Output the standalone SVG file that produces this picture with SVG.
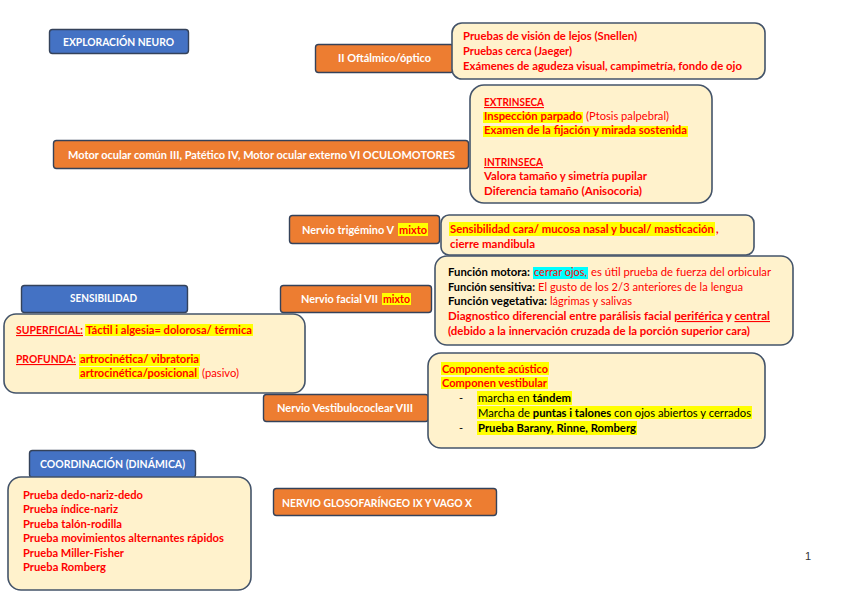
<svg xmlns="http://www.w3.org/2000/svg" width="848" height="599" viewBox="0 0 848 599">
<style>
text{font-family:Lato,"Liberation Sans",sans-serif;font-size:11px}
.or{fill:#ED7D31;stroke:#34425A;stroke-width:1.4}
.bl{fill:#4472C4;stroke:#34425A;stroke-width:1.4}
.cr{fill:#FFF2CC;stroke:#44546A;stroke-width:1.6}
.w{fill:#FFFFFF;font-weight:bold}
.r{fill:#FF0000;font-weight:bold}
.rn{fill:#FF0000;font-weight:normal}
.k{fill:#000000;font-weight:bold}
.kn{fill:#000000;font-weight:normal}
.u{text-decoration:underline}
.y{fill:#FFFF00}
.c{fill:#00FFFF}
</style>
<rect width="848" height="599" fill="#FFFFFF"/>
<g id="connectors"/>

<g id="exploracion">
<rect class="bl" x="49.5" y="29.5" width="139" height="24" rx="3"/>
<text class="w" x="63" y="46" textLength="111" lengthAdjust="spacingAndGlyphs">EXPLORACIÓN NEURO</text>
</g>

<g id="optico">
<rect class="or" x="315.5" y="44.5" width="138" height="28" rx="3"/>
<text class="w" x="338" y="62" textLength="93" lengthAdjust="spacingAndGlyphs">II Oftálmico/óptico</text>
</g>

<g id="optico-info">
<rect class="cr" x="452" y="23" width="313" height="56" rx="10"/>
<text class="r" x="463" y="40" textLength="174" lengthAdjust="spacingAndGlyphs">Pruebas de visión de lejos (Snellen)</text>
<text class="r" x="463" y="55" textLength="109" lengthAdjust="spacingAndGlyphs">Pruebas cerca (Jaeger)</text>
<text class="r" x="463" y="70" textLength="279" lengthAdjust="spacingAndGlyphs">Exámenes de agudeza visual, campimetría, fondo de ojo</text>
</g>

<g id="oculomotores">
<rect class="or" x="53.5" y="140.5" width="415" height="28" rx="3"/>
<text class="w" x="68" y="159" textLength="387" lengthAdjust="spacingAndGlyphs">Motor ocular común III, Patético IV, Motor ocular externo VI OCULOMOTORES</text>
</g>

<g id="oculomotores-info">
<rect class="cr" x="470" y="85" width="242" height="118" rx="14"/>
<text class="r u" x="484" y="106" textLength="60" lengthAdjust="spacingAndGlyphs">EXTRINSECA</text>
<rect class="y" x="483" y="112" width="100" height="11"/>
<text class="r" x="484" y="120" textLength="98" lengthAdjust="spacingAndGlyphs">Inspección parpado</text>
<text class="rn" x="586" y="120" textLength="83" lengthAdjust="spacingAndGlyphs">(Ptosis palpebral)</text>
<rect class="y" x="483" y="126" width="205" height="11"/>
<text class="r" x="484" y="134" textLength="203" lengthAdjust="spacingAndGlyphs">Examen de la fijación y mirada sostenida</text>
<text class="r u" x="484" y="166" textLength="59" lengthAdjust="spacingAndGlyphs">INTRINSECA</text>
<text class="r" x="484" y="180" textLength="163" lengthAdjust="spacingAndGlyphs">Valora tamaño y simetría pupilar</text>
<text class="r" x="484" y="195" textLength="158" lengthAdjust="spacingAndGlyphs">Diferencia tamaño (Anisocoria)</text>
</g>

<g id="trigemino">
<rect class="or" x="289.5" y="215.5" width="150" height="28" rx="3"/>
<text class="w" x="302" y="234" textLength="92" lengthAdjust="spacingAndGlyphs">Nervio trigémino V</text>
<rect class="y" x="398" y="223" width="30" height="13"/>
<text class="r" x="399" y="234" textLength="28" lengthAdjust="spacingAndGlyphs">mixto</text>
</g>

<g id="trigemino-info">
<rect class="cr" x="441" y="215" width="313" height="40" rx="8"/>
<rect class="y" x="449" y="222" width="266" height="14"/>
<text class="r" x="450" y="233" textLength="264" lengthAdjust="spacingAndGlyphs">Sensibilidad cara/ mucosa nasal y bucal/ masticación</text>
<text class="r" x="716" y="233">,</text>
<text class="r" x="450" y="248" textLength="85" lengthAdjust="spacingAndGlyphs">cierre mandibula</text>
</g>

<g id="facial-info">
<rect class="cr" x="435" y="256" width="358" height="89" rx="12"/>
<text class="k" x="448" y="276" textLength="82" lengthAdjust="spacingAndGlyphs">Función motora:</text>
<rect class="c" x="533" y="267" width="55" height="12"/>
<text class="rn" x="534" y="276" textLength="53" lengthAdjust="spacingAndGlyphs">cerrar ojos,</text>
<text class="rn" x="591" y="276" textLength="180" lengthAdjust="spacingAndGlyphs">es útil prueba de fuerza del orbicular</text>
<text class="k" x="448" y="291" textLength="87" lengthAdjust="spacingAndGlyphs">Función sensitiva:</text>
<text class="rn" x="538" y="291" textLength="205" lengthAdjust="spacingAndGlyphs">El gusto de los 2/3 anteriores de la lengua</text>
<text class="k" x="448" y="305" textLength="99" lengthAdjust="spacingAndGlyphs">Función vegetativa:</text>
<text class="rn" x="550" y="305" textLength="82" lengthAdjust="spacingAndGlyphs">lágrimas y salivas</text>
<text class="r" x="448" y="320" textLength="322" lengthAdjust="spacingAndGlyphs">Diagnostico diferencial entre parálisis facial <tspan class="u">periférica</tspan> y <tspan class="u">central</tspan></text>
<text class="r" x="448" y="335" textLength="302" lengthAdjust="spacingAndGlyphs">(debido a la innervación cruzada de la porción superior cara)</text>
</g>

<g id="facial">
<rect class="or" x="280.5" y="285.5" width="151" height="27" rx="3"/>
<text class="w" x="301" y="303" textLength="77" lengthAdjust="spacingAndGlyphs">Nervio facial VII</text>
<rect class="y" x="382" y="293" width="29" height="12"/>
<text class="r" x="383" y="303" textLength="27" lengthAdjust="spacingAndGlyphs">mixto</text>
</g>

<g id="sensibilidad">
<rect class="bl" x="21.5" y="285.5" width="166" height="27" rx="3"/>
<text class="w" x="70" y="302" textLength="67" lengthAdjust="spacingAndGlyphs">SENSIBILIDAD</text>
</g>

<g id="sensibilidad-info">
<rect class="cr" x="4" y="314" width="301" height="79" rx="12"/>
<text class="r u" x="16" y="334" textLength="67" lengthAdjust="spacingAndGlyphs">SUPERFICIAL:</text>
<rect class="y" x="85" y="324" width="168" height="12"/>
<text class="r" x="86" y="334" textLength="166" lengthAdjust="spacingAndGlyphs">Táctil i algesia= dolorosa/ térmica</text>
<text class="r u" x="16" y="363" textLength="60" lengthAdjust="spacingAndGlyphs">PROFUNDA:</text>
<rect class="y" x="79" y="354" width="121" height="12"/>
<text class="r" x="80" y="363" textLength="119" lengthAdjust="spacingAndGlyphs">artrocinética/ vibratoria</text>
<rect class="y" x="79" y="367" width="120" height="12"/>
<text class="r" x="80" y="377" textLength="117" lengthAdjust="spacingAndGlyphs">artrocinética/posicional</text>
<text class="rn" x="202" y="377" textLength="37" lengthAdjust="spacingAndGlyphs">(pasivo)</text>
</g>

<g id="vestibulococlear">
<rect class="or" x="263.5" y="394.5" width="165" height="27" rx="3"/>
<text class="w" x="277" y="412" textLength="136" lengthAdjust="spacingAndGlyphs">Nervio Vestibulococlear VIII</text>
</g>

<g id="vestibulococlear-info">
<rect class="cr" x="428" y="353" width="337" height="95" rx="13"/>
<rect class="y" x="441" y="362" width="108" height="13"/>
<text class="r" x="442" y="373" textLength="106" lengthAdjust="spacingAndGlyphs">Componente acústico</text>
<rect class="y" x="441" y="377" width="107" height="12"/>
<text class="r" x="442" y="387" textLength="105" lengthAdjust="spacingAndGlyphs">Componen vestibular</text>
<text class="kn" x="459" y="402">-</text>
<rect class="y" x="477" y="391" width="95" height="14"/>
<text class="kn" x="478" y="402" textLength="93" lengthAdjust="spacingAndGlyphs">marcha en <tspan class="k">tándem</tspan></text>
<rect class="y" x="477" y="406" width="275" height="13"/>
<text class="kn" x="478" y="417" textLength="273" lengthAdjust="spacingAndGlyphs">Marcha de <tspan class="k">puntas i talones</tspan> con ojos abiertos y cerrados</text>
<text class="kn" x="459" y="432">-</text>
<rect class="y" x="477" y="421" width="160" height="14"/>
<text class="k" x="478" y="432" textLength="158" lengthAdjust="spacingAndGlyphs">Prueba Barany, Rinne, Romberg</text>
</g>

<g id="coordinacion">
<rect class="bl" x="29.5" y="450.5" width="166" height="27" rx="3"/>
<text class="w" x="40" y="468" textLength="145" lengthAdjust="spacingAndGlyphs">COORDINACIÓN (DINÁMICA)</text>
</g>

<g id="coordinacion-info">
<rect class="cr" x="8" y="477" width="243" height="113" rx="13"/>
<text class="r" x="23" y="499" textLength="120" lengthAdjust="spacingAndGlyphs">Prueba dedo-nariz-dedo</text>
<text class="r" x="23" y="513" textLength="95" lengthAdjust="spacingAndGlyphs">Prueba índice-nariz</text>
<text class="r" x="23" y="528" textLength="99" lengthAdjust="spacingAndGlyphs">Prueba talón-rodilla</text>
<text class="r" x="23" y="542" textLength="201" lengthAdjust="spacingAndGlyphs">Prueba movimientos alternantes rápidos</text>
<text class="r" x="23" y="557" textLength="101" lengthAdjust="spacingAndGlyphs">Prueba Miller-Fisher</text>
<text class="r" x="23" y="571" textLength="83" lengthAdjust="spacingAndGlyphs">Prueba Romberg</text>
</g>

<g id="glosofaringeo">
<rect class="or" x="273.5" y="488.5" width="223" height="27" rx="3"/>
<text class="w" x="282" y="507" textLength="190" lengthAdjust="spacingAndGlyphs">NERVIO GLOSOFARÍNGEO IX Y VAGO X</text>
</g>

<text x="805" y="560" fill="#333333" style="font-family:'Liberation Sans',sans-serif;font-size:11px">1</text>
</svg>
